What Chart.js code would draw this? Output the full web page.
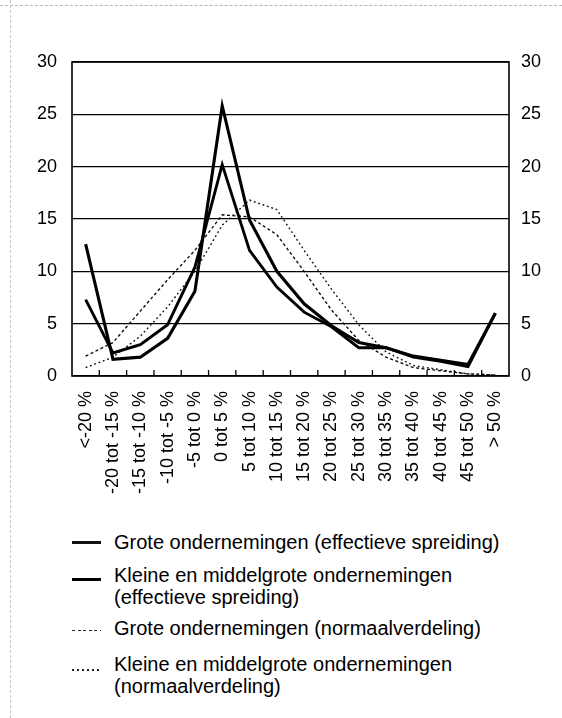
<!DOCTYPE html>
<html>
<head>
<meta charset="utf-8">
<script src="https://cdn.jsdelivr.net/npm/chart.js@4.4.1/dist/chart.umd.min.js"></script>
<style>
    html, body { margin: 0; padding: 0; background: #fff; }
    #wrap { position: relative; width: 562px; height: 718px; overflow: hidden;
            font-family: 'Liberation Sans', Arial, Helvetica, sans-serif; color: #000; }
    #chart { position: absolute; left: 0; top: 0; }
    .scan-top  { position: absolute; left: 0; top: 5px; width: 562px; border-top: 1px dashed #b5b5b5; }
    .scan-left { position: absolute; left: 10px; top: 0; height: 718px; border-left: 1px dashed #c8c8c8; }
    .lg-sw  { position: absolute; left: 72px; width: 29px; }
    .lg-txt { position: absolute; left: 114px; font-size: 20px; line-height: 22px; white-space: nowrap; }
</style>
</head>
<body>
<div id="wrap">
    <div class="scan-top"></div>
    <div class="scan-left"></div>
    <canvas id="chart" width="562" height="520"></canvas>
    <div id="legend"></div>
</div>
<script>
(function () {
    'use strict';

    // ── Data ──────────────────────────────────────────────────────────────────

    var categories = ['<-20 %', '-20 tot -15 %', '-15 tot -10 %', '-10 tot -5 %', '-5 tot 0 %',
        '0 tot 5 %', '5 tot 10 %', '10 tot 15 %', '15 tot 20 %', '20 tot 25 %', '25 tot 30 %',
        '30 tot 35 %', '35 tot 40 %', '40 tot 45 %', '45 tot 50 %', '> 50 %'];

    var yTicks = [0, 5, 10, 15, 20, 25, 30];

    var seriesNames = [
        ['Grote ondernemingen (effectieve spreiding)'],
        ['Kleine en middelgrote ondernemingen', '(effectieve spreiding)'],
        ['Grote ondernemingen (normaalverdeling)'],
        ['Kleine en middelgrote ondernemingen', '(normaalverdeling)']
    ];

    var groteEffectief = [7.3, 2.2, 3.0, 4.9, 10.4, 20.2, 12.0, 8.5, 6.1, 4.7, 2.7, 2.7, 1.8, 1.4, 0.9, 6.0];
    var kmoEffectief   = [12.6, 1.6, 1.8, 3.6, 8.1, 25.8, 14.9, 10.0, 6.9, 4.8, 3.2, 2.7, 1.9, 1.5, 1.1, 6.0];
    var groteNormaal   = [1.9, 3.2, 6.2, 9.2, 12.0, 15.4, 15.2, 13.5, 10.0, 6.3, 3.4, 1.8, 0.8, 0.5, 0.2, 0.1];
    var kmoNormaal     = [0.8, 1.8, 3.8, 6.6, 10.0, 14.4, 16.8, 15.9, 12.0, 8.3, 4.9, 2.3, 1.0, 0.6, 0.2, 0.1];

    // ── Style ─────────────────────────────────────────────────────────────────

    var FONT = "'Liberation Sans', Arial, Helvetica, sans-serif";
    var lineStyles = [
        { width: 2.9, dash: [] },
        { width: 3.1, dash: [] },
        { width: 1.4, dash: [3, 2.5] },
        { width: 1.4, dash: [1.8, 2.8] }
    ];

    // frame round the plot + short inward ticks between categories
    var framePlugin = {
        id: 'frame',
        afterDatasetsDraw: function (chart) {
            var ctx = chart.ctx, a = chart.chartArea, x = chart.scales.x;
            ctx.save();
            ctx.strokeStyle = '#000';
            ctx.lineWidth = 1.6;
            ctx.strokeRect(a.left, a.top, a.right - a.left, a.bottom - a.top);
            ctx.lineWidth = 1.3;
            ctx.beginPath();
            for (var i = 1; i < categories.length; i++) {
                var px = (x.getPixelForValue(i - 1) + x.getPixelForValue(i)) / 2;
                ctx.moveTo(px, a.bottom);
                ctx.lineTo(px, a.bottom - 6);
            }
            ctx.stroke();
            ctx.restore();
        }
    };

    var allSeries = [groteEffectief, kmoEffectief, groteNormaal, kmoNormaal];
    var datasets = allSeries.map(function (values, i) {
        return {
            label: seriesNames[i].join(' '),
            data: values,
            borderColor: i < 2 ? '#000' : '#111',
            borderWidth: lineStyles[i].width,
            borderDash: lineStyles[i].dash,
            borderJoinStyle: 'miter',
            pointRadius: 0,
            tension: 0,
            fill: false,
            order: i < 2 ? 0 : 1
        };
    });

    var tickFont = { family: FONT, size: 18 };

    new Chart(document.getElementById('chart').getContext('2d'), {
        type: 'line',
        data: { labels: categories, datasets: datasets },
        plugins: [framePlugin],
        options: {
            responsive: false,
            animation: false,
            layout: { padding: { top: 62, left: 0, right: 0, bottom: 0 } },
            plugins: { legend: { display: false }, tooltip: { enabled: false } },
            scales: {
                x: {
                    offset: true,
                    grid: { display: false },
                    border: { display: false },
                    ticks: { autoSkip: false, minRotation: 90, maxRotation: 90, padding: 7,
                             color: '#000', font: tickFont },
                    afterFit: function (s) { s.height = 520 - 376; }
                },
                y: {
                    position: 'left',
                    min: 0, max: 30,
                    afterBuildTicks: function (s) { s.ticks = yTicks.map(function (v) { return { value: v }; }); },
                    grid: { color: '#000', lineWidth: 1.2, drawTicks: false },
                    border: { display: false },
                    ticks: { padding: 15, color: '#000', font: tickFont },
                    afterFit: function (s) { s.width = 72; }
                },
                y2: {
                    position: 'right',
                    min: 0, max: 30,
                    afterBuildTicks: function (s) { s.ticks = yTicks.map(function (v) { return { value: v }; }); },
                    grid: { display: false, drawTicks: false },
                    border: { display: false },
                    ticks: { padding: 12, color: '#000', font: tickFont },
                    afterFit: function (s) { s.width = 562 - 509; }
                }
            }
        }
    });

    // ── Legend (html, one column) ─────────────────────────────────────────────

    var legendTop  = [531, 564, 617, 653];
    var swatchY    = [541, 578, 630, 669];
    var swatchCss  = [
        'height:3px;background:#111',
        'height:3px;background:#000',
        'height:1.4px;background:repeating-linear-gradient(90deg,#222 0 3px,transparent 3px 5.5px)',
        'height:1.6px;background:repeating-linear-gradient(90deg,#222 0 1.8px,transparent 1.8px 5px)'
    ];
    var legend = document.getElementById('legend');

    seriesNames.forEach(function (lines, i) {
        var sw = document.createElement('div');
        sw.className = 'lg-sw';
        sw.style.cssText = swatchCss[i];
        sw.style.top = swatchY[i] + 'px';
        legend.appendChild(sw);

        var txt = document.createElement('div');
        txt.className = 'lg-txt';
        txt.style.top = legendTop[i] + 'px';
        txt.innerHTML = lines.join('<br>');
        legend.appendChild(txt);
    });

}());
</script>
</body>
</html>
